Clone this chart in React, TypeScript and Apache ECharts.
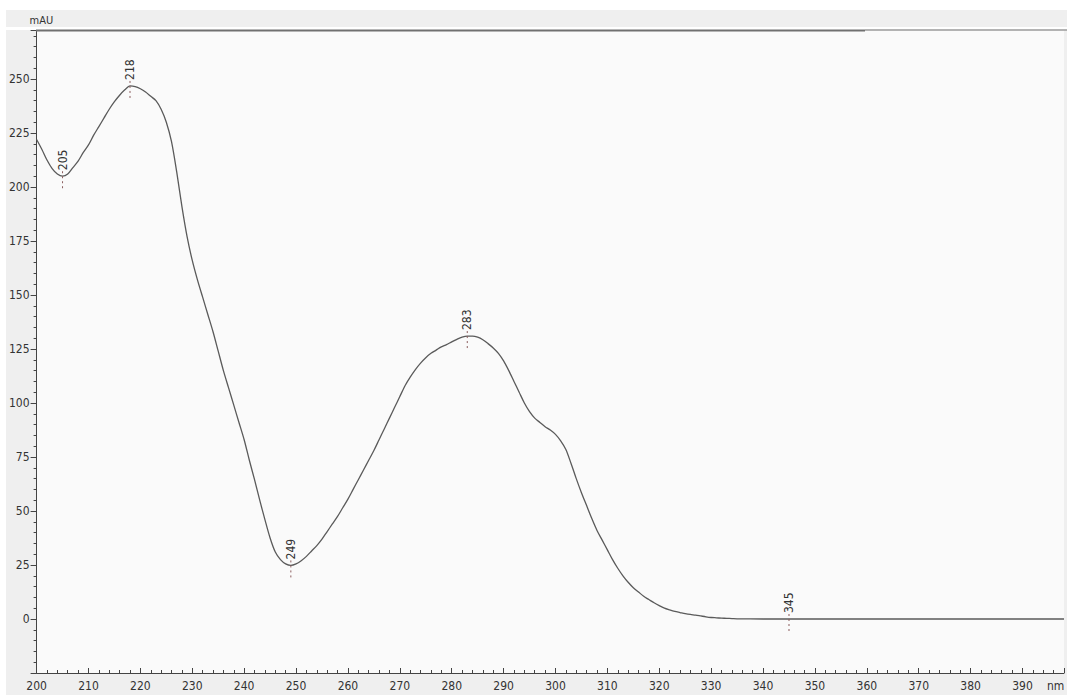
import React, { useEffect, useRef } from "react";
import * as echarts from "echarts";

const wavelengths = [
  200, 201, 202, 203, 204, 205, 206, 207, 208, 209,
  210, 211, 212, 213, 214, 215, 216, 217, 218, 219,
  220, 221, 222, 223, 224, 225, 226, 227, 228, 229,
  230, 231, 232, 233, 234, 235, 236, 237, 238, 239,
  240, 241, 242, 243, 244, 245, 246, 247, 248, 249,
  250, 251, 252, 253, 254, 255, 256, 257, 258, 259,
  260, 261, 262, 263, 264, 265, 266, 267, 268, 269,
  270, 271, 272, 273, 274, 275, 276, 277, 278, 279,
  280, 281, 282, 283, 284, 285, 286, 287, 288, 289,
  290, 291, 292, 293, 294, 295, 296, 297, 298, 299,
  300, 301, 302, 303, 304, 305, 306, 307, 308, 309,
  310, 311, 312, 313, 314, 315, 316, 317, 318, 319,
  320, 321, 322, 323, 324, 325, 326, 327, 328, 329,
  330, 331, 332, 333, 334, 335, 340, 350, 360, 370,
  380, 390, 398,
];

const absorbance = [
  222, 217.5, 212.5, 208.5, 206, 205, 206, 209, 212, 216,
  219.5, 224, 228, 232, 236, 239.5, 242.5, 245, 246.8, 246.5,
  245.5, 244, 242, 240, 236, 230, 221, 207, 191, 177,
  166, 157, 149, 141, 133, 124, 115, 107, 99, 91,
  83, 73.5, 64.5, 55, 46, 37.5, 31, 27.5, 25.5, 24.8,
  25.5, 27, 29, 31.5, 34, 37, 40.5, 44, 47.5, 51.5,
  55.5, 60, 64.5, 69, 73.5, 78, 83, 88, 93, 98,
  103, 108, 112, 115.5, 118.5, 121, 123, 124.5, 126, 127,
  128.3, 129.5, 130.5, 131, 131, 130.5, 129.3, 127.5, 125.5, 123,
  119.5, 115, 110, 105, 100, 96, 93, 91, 89, 87.5,
  85.5, 82.5, 78.5, 72, 65, 58.5, 52.5, 46.5, 41, 36.5,
  32, 27.5, 23.5, 20, 17, 14.5, 12.5, 10.5, 9, 7.5,
  6.2, 5, 4.2, 3.5, 3, 2.5, 2.1, 1.8, 1.4, 1,
  0.7, 0.55, 0.4, 0.3, 0.2, 0.1, 0, 0, 0, 0,
  0, 0, 0,
];

const peakWavelengths = [205, 218, 249, 283, 345];
const peakValues = [205, 246.8, 24.8, 131, 0];

const yTickValues = [0, 25, 50, 75, 100, 125, 150, 175, 200, 225, 250];
const xTickValues = [200, 210, 220, 230, 240, 250, 260, 270, 280, 290, 300, 310, 320, 330, 340, 350, 360, 370, 380, 390];

const FONT = "'Liberation Sans Narrow', 'DejaVu Sans Condensed', 'Liberation Sans', sans-serif";

export default function App() {
  const ref = useRef<HTMLDivElement>(null);

  useEffect(() => {
    if (!ref.current) return;
    const chart = echarts.init(ref.current, undefined, { renderer: "svg" });
    const option: any = {
      animation: false,
      backgroundColor: "#efefef",
      grid: {
        left: 30,
        top: 20,
        right: 0,
        bottom: 22,
        show: true,
        backgroundColor: "#fafafa",
        borderWidth: 0,
      },
      graphic: {
        elements: [
          {
            type: "rect",
            shape: { x: 0, y: 17, width: 1061, height: 3 },
            style: { fill: "#ffffff" },
            z: 1,
          },
          {
            type: "line",
            shape: { x1: 30, y1: 20.5, x2: 859, y2: 20.5 },
            style: { stroke: "#707070", lineWidth: 2 },
            z: 2,
          },
          {
            type: "line",
            shape: { x1: 859, y1: 20, x2: 1061, y2: 20 },
            style: { stroke: "#9a9a9a", lineWidth: 1.5 },
            z: 2,
          },
          {
            type: "text",
            x: 1041,
            y: 670,
            style: { text: "nm", font: `12px ${FONT}`, fill: "#333" },
            z: 3,
          },
        ],
      },
      xAxis: {
        type: "value",
        min: 200,
        max: 398,
        interval: 10,
        axisLine: { show: true, onZero: false, lineStyle: { color: "#444", width: 1 } },
        axisTick: { show: true, inside: true, length: 5, lineStyle: { color: "#444" } },
        minorTick: { show: true, splitNumber: 5, length: 3, lineStyle: { color: "#444" } },
        splitLine: { show: false },
        axisLabel: {
          margin: 7,
          color: "#333",
          fontSize: 12,
          fontFamily: FONT,
          formatter: (v: number) => (xTickValues.indexOf(v) >= 0 ? String(v) : ""),
        },
      },
      yAxis: {
        type: "value",
        min: -25,
        max: 272.7,
        interval: 25,
        name: "mAU",
        nameLocation: "end",
        nameGap: 4,
        nameTextStyle: { color: "#333", fontSize: 11, fontFamily: FONT, align: "left", padding: [0, 0, 0, -7] },
        axisLine: { show: true, onZero: false, lineStyle: { color: "#444", width: 1 } },
        axisTick: { show: true, inside: false, length: 6, lineStyle: { color: "#444" } },
        minorTick: { show: true, splitNumber: 5, length: 3, lineStyle: { color: "#444" } },
        splitLine: { show: false },
        axisLabel: {
          margin: 7,
          color: "#333",
          fontSize: 12,
          fontFamily: FONT,
          showMaxLabel: false,
          formatter: (v: number) => (yTickValues.indexOf(v) >= 0 ? String(v) : ""),
        },
      },
      series: [
        {
          type: "line",
          data: wavelengths.map((w, i) => [w, absorbance[i]]),
          smooth: 0.3,
          symbol: "none",
          lineStyle: { color: "#5a5a5a", width: 1.3 },
          z: 3,
        },
        {
          type: "custom",
          data: peakWavelengths.map((w, i) => [w, peakValues[i]]),
          z: 4,
          renderItem: (params: any, api: any) => {
            const p = api.coord([api.value(0), api.value(1)]);
            return {
              type: "group",
              children: [
                {
                  type: "line",
                  shape: { x1: p[0], y1: p[1] - 5, x2: p[0], y2: p[1] + 15 },
                  style: { stroke: "#8a5c5c", lineWidth: 1, lineDash: [2, 3] },
                },
                {
                  type: "text",
                  x: p[0],
                  y: p[1] - 6,
                  rotation: Math.PI / 2,
                  style: {
                    text: String(api.value(0)),
                    align: "left",
                    verticalAlign: "middle",
                    font: `12px ${FONT}`,
                    fill: "#333",
                  },
                },
              ],
            };
          },
        },
      ],
    };
    chart.setOption(option);
    return () => chart.dispose();
  }, []);

  return (
    <div style={{ position: "fixed", left: 0, top: 0, width: 1067, height: 695, background: "#ffffff" }}>
      <div ref={ref} style={{ position: "absolute", left: 6, top: 10, width: 1061, height: 685 }} />
    </div>
  );
}
